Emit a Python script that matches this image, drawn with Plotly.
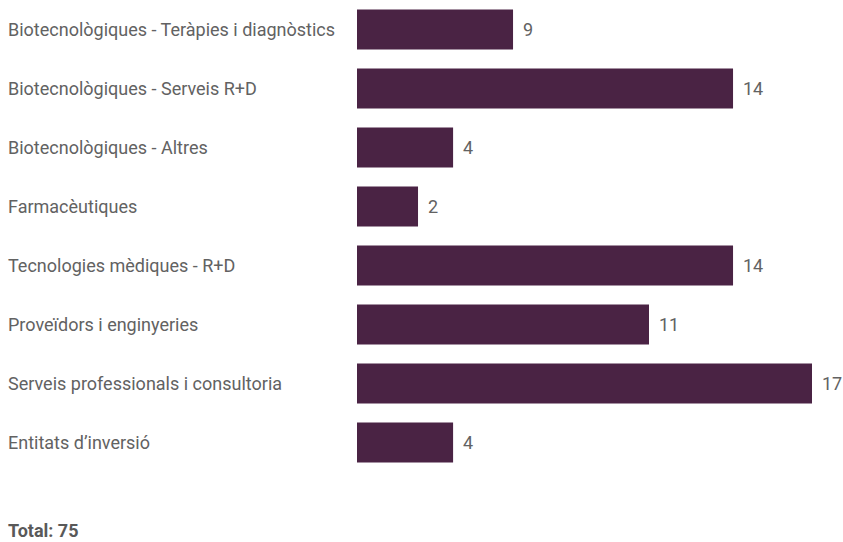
import plotly.graph_objects as go

categories = [
    "Biotecnològiques - Teràpies i diagnòstics",
    "Biotecnològiques - Serveis R+D",
    "Biotecnològiques - Altres",
    "Farmacèutiques",
    "Tecnologies mèdiques - R+D",
    "Proveïdors i enginyeries",
    "Serveis professionals i consultoria",
    "Entitats d\u2019inversió",
]
# Printed value labels
counts = [9, 14, 4, 2, 14, 11, 17, 4]
# Bar lengths as drawn in the reference (same units)
bar_lengths = [5.83, 14.05, 3.59, 2.28, 14.05, 10.91, 17.0, 3.59]

W, H = 843, 542
ML, MR, MT, MB = 357, 0, 0, 70
plot_w = W - ML - MR
x_max = 17.0 * plot_w / 455.0

BAR = "#4a2344"
TXT = "#626262"
FONT = "Roboto"
FS = 18

fig = go.Figure(
    go.Bar(
        x=bar_lengths,
        y=categories,
        orientation="h",
        marker=dict(color=BAR, line=dict(width=0)),
        hoverinfo="skip",
    )
)

annotations = []
for cat, cnt, ln in zip(categories, counts, bar_lengths):
    annotations.append(dict(
        x=ln, y=cat, xref="x", yref="y", text=str(cnt), showarrow=False,
        xanchor="left", yanchor="middle", xshift=8,
        font=dict(family=FONT, size=FS, color=TXT),
    ))
    annotations.append(dict(
        x=-(ML - 8) / plot_w, y=cat, xref="paper", yref="y", text=cat,
        showarrow=False, xanchor="left", yanchor="middle", xshift=-2,
        font=dict(family=FONT, size=FS, color=TXT),
    ))

annotations.append(dict(
    x=-(ML - 8) / plot_w, y=-(530 - (H - MB)) / (H - MT - MB),
    xref="paper", yref="paper", text="<b>Total: %d</b>" % sum(counts),
    showarrow=False, xanchor="left", yanchor="middle", xshift=-2,
    font=dict(family=FONT, size=FS, color="#595959"),
))

fig.update_layout(
    width=W, height=H,
    margin=dict(l=ML, r=MR, t=MT, b=MB, pad=0),
    paper_bgcolor="white", plot_bgcolor="white",
    bargap=0.322,
    showlegend=False,
    xaxis=dict(range=[0, x_max], visible=False, fixedrange=True),
    yaxis=dict(autorange="reversed", showticklabels=False, showgrid=False,
               zeroline=False, showline=False, ticks="", fixedrange=True),
    annotations=annotations,
    font=dict(family=FONT, size=FS, color=TXT),
)

fig.write_html("out.html", config={"displayModeBar": False})
